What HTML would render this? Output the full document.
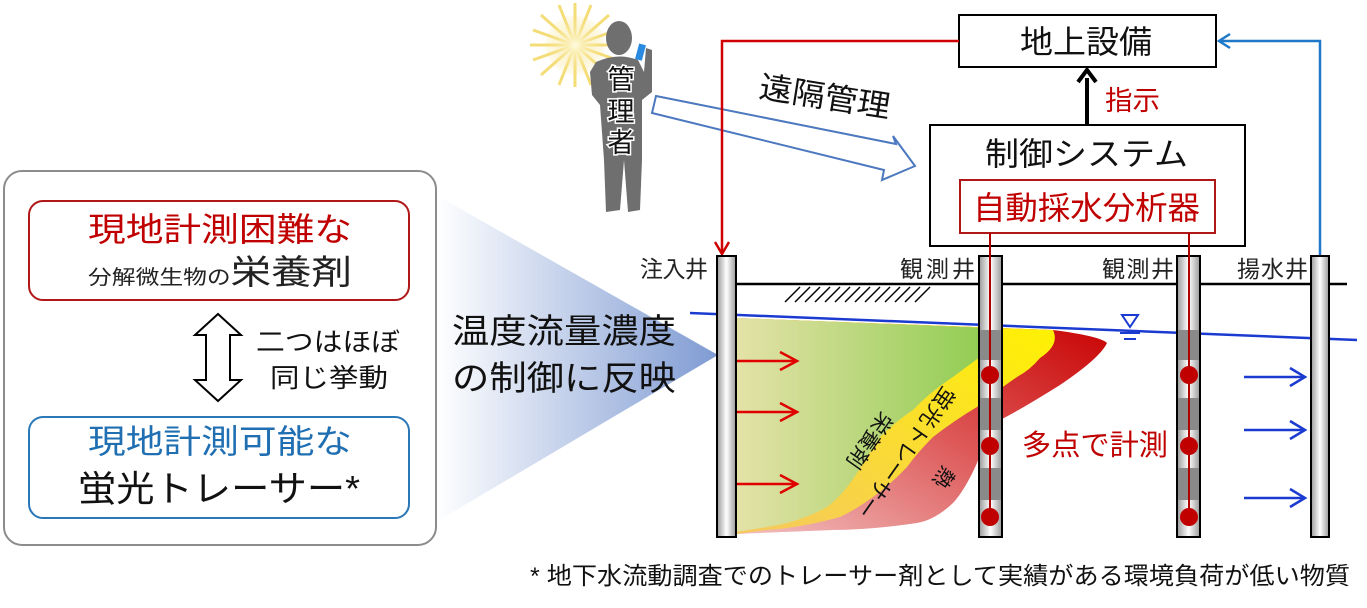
<!DOCTYPE html>
<html><head><meta charset="utf-8"><style>
html,body{margin:0;padding:0;background:#fff;}
svg{display:block;font-family:"Liberation Sans","Noto Sans CJK JP",sans-serif;}
</style></head><body>
<svg width="1367" height="608" viewBox="0 0 1367 608" xmlns="http://www.w3.org/2000/svg">
<defs>
<linearGradient id="tri" x1="0" y1="0" x2="1" y2="0">
<stop offset="0" stop-color="#fff"/><stop offset="1" stop-color="#7f9bd3"/></linearGradient>
<linearGradient id="well" x1="0" y1="0" x2="1" y2="0">
<stop offset="0" stop-color="#999"/><stop offset="0.5" stop-color="#fff"/><stop offset="1" stop-color="#999"/></linearGradient>
<linearGradient id="green" x1="0" y1="0" x2="1" y2="0">
<stop offset="0" stop-color="#e4e2a8"/><stop offset="1" stop-color="#8fcc50"/></linearGradient>
<linearGradient id="redg" x1="0" y1="1" x2="1" y2="0">
<stop offset="0" stop-color="#f2c0c0"/><stop offset="0.5" stop-color="#de5a5a"/><stop offset="1" stop-color="#c80000"/></linearGradient>
<linearGradient id="yel" x1="0" y1="1" x2="1" y2="0">
<stop offset="0" stop-color="#f5c860"/><stop offset="1" stop-color="#fff200"/></linearGradient>
<radialGradient id="sun"><stop offset="0" stop-color="#fffbe0"/><stop offset="1" stop-color="#f5df80" stop-opacity="0.1"/></radialGradient>
</defs>

<!-- left panel -->
<polygon points="436,195 718,355 436,522" fill="url(#tri)"/>
<rect x="4" y="171" width="432" height="374" rx="18" fill="#fff" stroke="#8c8c8c" stroke-width="2"/>
<rect x="29" y="201" width="380" height="99" rx="14" fill="#fff" stroke="#b01818" stroke-width="2"/>
<text x="88" y="241" font-size="33" fill="#c00000" textLength="264" lengthAdjust="spacingAndGlyphs">現地計測困難な</text>
<text x="88" y="284" fill="#222" textLength="264" lengthAdjust="spacingAndGlyphs"><tspan font-size="20">分解微生物の</tspan><tspan font-size="34">栄養剤</tspan></text>
<polygon points="218,314 241,335 230,335 230,380 241,380 218,401 195,380 206,380 206,335 195,335" fill="#fff" stroke="#000" stroke-width="2"/>
<text x="256" y="351" font-size="26" fill="#111" textLength="144" lengthAdjust="spacingAndGlyphs">二つはほぼ</text>
<text x="270" y="387" font-size="26" fill="#111" textLength="118" lengthAdjust="spacingAndGlyphs">同じ挙動</text>
<rect x="29" y="417" width="380" height="101" rx="14" fill="#fff" stroke="#2a78b8" stroke-width="2"/>
<text x="88" y="453" font-size="33" fill="#1f6fb2" textLength="264" lengthAdjust="spacingAndGlyphs">現地計測可能な</text>
<text x="78" y="501" font-size="36" fill="#111" textLength="282" lengthAdjust="spacingAndGlyphs">蛍光トレーサー*</text>
<text x="452" y="343" font-size="34" fill="#111" textLength="224" lengthAdjust="spacingAndGlyphs">温度流量濃度</text>
<text x="452" y="390" font-size="34" fill="#111" textLength="224" lengthAdjust="spacingAndGlyphs">の制御に反映</text>

<!-- person -->
<g transform="translate(575,45)">
<g stroke="#f3d660" stroke-width="3" opacity="0.85">
<line x1="-45" y1="0" x2="45" y2="0"/><line x1="0" y1="-42" x2="0" y2="42"/>
<line x1="-34" y1="-30" x2="34" y2="30"/><line x1="-34" y1="30" x2="34" y2="-30"/>
<line x1="-42" y1="-15" x2="42" y2="15"/><line x1="-42" y1="15" x2="42" y2="-15"/>
<line x1="-16" y1="-40" x2="16" y2="40"/><line x1="-16" y1="40" x2="16" y2="-40"/>
</g>
<circle r="30" fill="url(#sun)"/>
</g>
<g fill="#6f6f6f">
<ellipse cx="619" cy="38" rx="13" ry="17"/>
<path d="M596,62 Q618,52 638,60 L644,72 L646,48 L652,50 L652,92 L642,100 L642,160 L640,210 L628,212 L624,160 L620,210 L606,212 L604,160 L600,105 L592,95 L590,72 Z"/>
</g>
<rect x="637" y="44" width="7" height="16" fill="#2a8ae0" transform="rotate(15 640 52)"/>
<g font-size="27" fill="#111" text-anchor="middle" stroke="#fff" stroke-width="3" paint-order="stroke">
<text x="621" y="89">管</text><text x="621" y="121">理</text><text x="621" y="152">者</text>
</g>
<!-- remote arrow -->
<polygon points="656,96 896,144 893,136 915,166 882,180 884,170 652,113" fill="#fff" stroke="#4c78bf" stroke-width="2"/>
<text x="758" y="97" font-size="31" fill="#111" transform="rotate(9 758 97)" textLength="132" lengthAdjust="spacingAndGlyphs">遠隔管理</text>

<!-- top boxes -->
<rect x="959" y="15" width="257" height="52" fill="#fff" stroke="#000" stroke-width="2"/>
<text x="1020" y="53" font-size="32" fill="#111" textLength="132" lengthAdjust="spacingAndGlyphs">地上設備</text>
<line x1="1087" y1="125" x2="1087" y2="78" stroke="#000" stroke-width="4"/>
<polyline points="1078,82 1087,70 1096,82" fill="none" stroke="#000" stroke-width="4"/>
<text x="1105" y="110" font-size="27" fill="#c00000" textLength="55" lengthAdjust="spacingAndGlyphs">指示</text>
<rect x="930" y="125" width="315" height="121" fill="#fff" stroke="#000" stroke-width="2"/>
<text x="985" y="165" font-size="32" fill="#111" textLength="203" lengthAdjust="spacingAndGlyphs">制御システム</text>
<rect x="960" y="180" width="255" height="53" fill="#fff" stroke="#b01818" stroke-width="2"/>
<text x="973" y="219" font-size="32" fill="#c00000" textLength="227" lengthAdjust="spacingAndGlyphs">自動採水分析器</text>

<!-- connectors -->
<polyline points="959,41 722,41 722,252" fill="none" stroke="#d00000" stroke-width="2.5"/>
<polyline points="715,242 722,254 729,242" fill="none" stroke="#d00000" stroke-width="2.5"/>
<polyline points="1320,256 1320,41 1219,41" fill="none" stroke="#1f78c8" stroke-width="2.5"/>
<polyline points="1230,34 1219,41 1230,48" fill="none" stroke="#1f78c8" stroke-width="2.5"/>

<!-- plume -->
<path d="M736,318 L1053,330 Q1100,336 1107,343 Q1100,358 1060,385 Q1020,410 1000,420 Q985,440 977,463 Q965,490 953,503 Q935,520 917,523 Q870,530 833,530 L736,534 Z" fill="url(#redg)"/>
<path d="M736,318 L1053,330 Q1060,345 1040,358 Q1030,370 1017,377 Q995,392 977,407 Q955,420 933,437 Q918,452 907,467 Q890,485 873,497 Q855,510 840,517 Q800,528 767,530 L736,534 Z" fill="url(#yel)"/>
<path d="M736,318 L990,328 L990,350 Q985,358 980,357 Q965,368 953,377 Q930,392 913,410 Q895,422 880,437 Q868,455 857,473 Q843,495 827,507 Q800,522 767,527 L736,532 Z" fill="url(#green)"/>
<text font-size="21" fill="#111" text-anchor="middle" dominant-baseline="central" transform="translate(905,452) rotate(125)" textLength="155" lengthAdjust="spacingAndGlyphs">蛍光トレーサー</text>
<text font-size="21" fill="#111" text-anchor="middle" dominant-baseline="central" transform="translate(869,440) rotate(125)">栄養剤</text>
<text font-size="21" fill="#111" text-anchor="middle" dominant-baseline="central" transform="translate(943,477) rotate(125)">熱</text>

<!-- ground -->
<line x1="716" y1="284" x2="1347" y2="284" stroke="#000" stroke-width="2.5"/>
<g stroke="#000" stroke-width="1.5">
<line x1="785" y1="302" x2="800" y2="287"/><line x1="795" y1="302" x2="810" y2="287"/><line x1="805" y1="302" x2="820" y2="287"/><line x1="815" y1="302" x2="830" y2="287"/><line x1="825" y1="302" x2="840" y2="287"/><line x1="835" y1="302" x2="850" y2="287"/><line x1="845" y1="302" x2="860" y2="287"/><line x1="855" y1="302" x2="870" y2="287"/><line x1="865" y1="302" x2="880" y2="287"/><line x1="875" y1="302" x2="890" y2="287"/><line x1="885" y1="302" x2="900" y2="287"/><line x1="895" y1="302" x2="910" y2="287"/><line x1="905" y1="302" x2="920" y2="287"/><line x1="915" y1="302" x2="930" y2="287"/>
</g>
<line x1="690" y1="313" x2="1357" y2="340" stroke="#1a3ad0" stroke-width="2.5"/>
<polygon points="1122,315 1138,315 1130,327" fill="#fff" stroke="#1a3ad0" stroke-width="2"/>
<line x1="1120" y1="333" x2="1140" y2="333" stroke="#1a3ad0" stroke-width="2"/>
<line x1="1124" y1="339" x2="1136" y2="339" stroke="#1a3ad0" stroke-width="2"/>

<!-- wells -->
<rect x="717" y="256" width="19" height="281" fill="url(#well)" stroke="#000" stroke-width="2"/>
<rect x="979" y="256" width="23" height="281" fill="url(#well)" stroke="#000" stroke-width="2"/>
<rect x="1177" y="256" width="23" height="281" fill="url(#well)" stroke="#000" stroke-width="2"/>
<rect x="1311" y="256" width="18" height="281" fill="url(#well)" stroke="#000" stroke-width="2"/>
<g fill="#8a8a8a">
<rect x="980" y="330" width="21" height="30"/><rect x="980" y="398" width="21" height="32"/><rect x="980" y="468" width="21" height="32"/>
<rect x="1178" y="330" width="21" height="30"/><rect x="1178" y="398" width="21" height="32"/><rect x="1178" y="468" width="21" height="32"/>
</g>
<line x1="990" y1="233" x2="990" y2="517" stroke="#b00000" stroke-width="2"/>
<line x1="1189" y1="233" x2="1189" y2="517" stroke="#b00000" stroke-width="2"/>
<g fill="#c00000">
<circle cx="990" cy="375" r="9"/><circle cx="990" cy="446" r="9"/><circle cx="990" cy="517" r="9"/>
<circle cx="1189" cy="375" r="9"/><circle cx="1189" cy="446" r="9"/><circle cx="1189" cy="517" r="9"/>
</g>
<g font-size="23" fill="#222" lengthAdjust="spacingAndGlyphs">
<text x="640" y="277" textLength="68">注入井</text><text x="900" y="277" textLength="75">観測井</text><text x="1102" y="277" textLength="72">観測井</text><text x="1237" y="277" textLength="71">揚水井</text>
</g>

<!-- flow arrows -->
<g stroke="#e00000" stroke-width="2.5" fill="none">
<line x1="737" y1="361" x2="797" y2="361"/><polyline points="780,352 797,361 780,370"/>
<line x1="737" y1="412" x2="797" y2="412"/><polyline points="780,403 797,412 780,421"/>
<line x1="737" y1="484" x2="797" y2="484"/><polyline points="780,475 797,484 780,493"/>
</g>
<g stroke="#1a3ad0" stroke-width="2.5" fill="none">
<line x1="1244" y1="377" x2="1305" y2="377"/><polyline points="1290,368 1305,377 1290,386"/>
<line x1="1244" y1="430" x2="1305" y2="430"/><polyline points="1290,421 1305,430 1290,439"/>
<line x1="1244" y1="498" x2="1305" y2="498"/><polyline points="1290,489 1305,498 1290,507"/>
</g>
<text x="1022" y="455" font-size="29" fill="#c00000" textLength="146" lengthAdjust="spacingAndGlyphs">多点で計測</text>

<text x="530" y="584" font-size="24" fill="#111" textLength="820" lengthAdjust="spacingAndGlyphs">* 地下水流動調査でのトレーサー剤として実績がある環境負荷が低い物質</text>
</svg>
</body></html>
